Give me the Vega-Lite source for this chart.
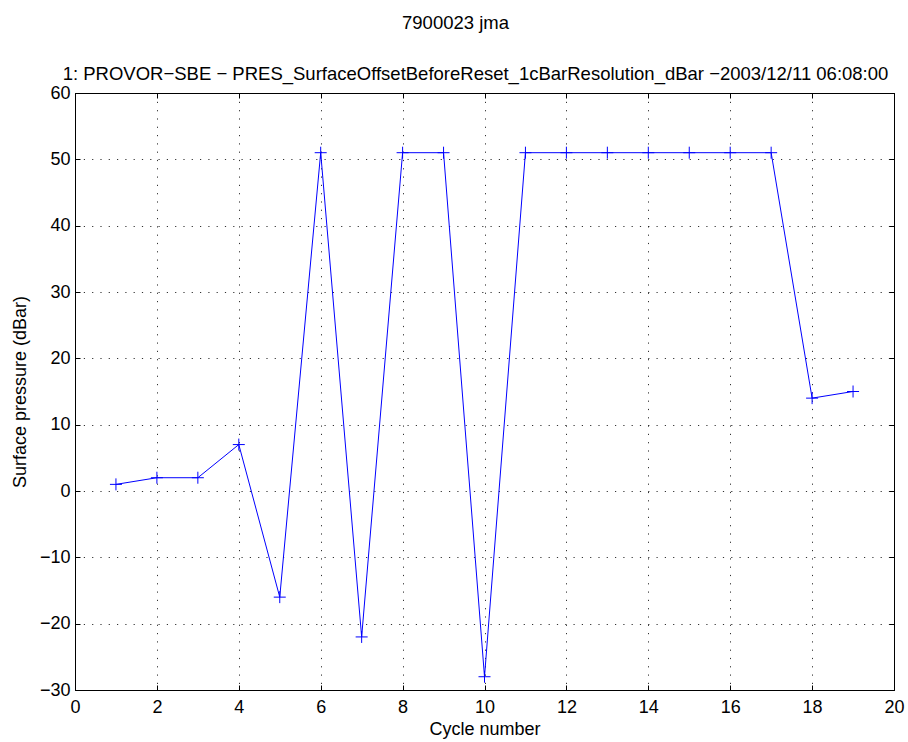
{
  "$schema": "https://vega.github.io/schema/vega-lite/v6.json",
  "width": 819,
  "height": 597,
  "autosize": "none",
  "padding": {"left": 75, "top": 93, "right": 14, "bottom": 52},
  "background": "white",
  "title": {
    "text": "7900023 jma",
    "anchor": "middle",
    "frame": "group",
    "dx": -29,
    "offset": 32,
    "fontSize": 18.5,
    "font": "Liberation Sans",
    "fontWeight": "normal",
    "color": "black"
  },
  "config": {
    "view": {"stroke": "black", "strokeWidth": 1},
    "axis": {
      "labelFont": "Liberation Sans",
      "labelFontSize": 18,
      "labelColor": "black",
      "titleFont": "Liberation Sans",
      "titleFontSize": 18,
      "titleFontWeight": "normal",
      "titleColor": "black",
      "domainColor": "black",
      "domainWidth": 1,
      "tickColor": "black",
      "tickWidth": 1,
      "gridColor": "black",
      "gridOpacity": 0.8,
      "gridDash": [1.2, 7.1],
      "gridWidth": 1
    }
  },
  "data": {
    "values": [
      {"cycle": 1, "pres": 1},
      {"cycle": 2, "pres": 2},
      {"cycle": 3, "pres": 2},
      {"cycle": 4, "pres": 7},
      {"cycle": 5, "pres": -16},
      {"cycle": 6, "pres": 51},
      {"cycle": 7, "pres": -22},
      {"cycle": 8, "pres": 51},
      {"cycle": 9, "pres": 51},
      {"cycle": 10, "pres": -28},
      {"cycle": 11, "pres": 51},
      {"cycle": 12, "pres": 51},
      {"cycle": 13, "pres": 51},
      {"cycle": 14, "pres": 51},
      {"cycle": 15, "pres": 51},
      {"cycle": 16, "pres": 51},
      {"cycle": 17, "pres": 51},
      {"cycle": 18, "pres": 14},
      {"cycle": 19, "pres": 15}
    ]
  },
  "layer": [
    {
      "mark": {"type": "line", "color": "#0000ff", "strokeWidth": 1},
      "encoding": {
        "x": {
          "field": "cycle",
          "type": "quantitative",
          "scale": {"domain": [0, 20], "nice": false, "zero": false},
          "axis": {
            "orient": "bottom",
            "values": [0, 2, 4, 6, 8, 10, 12, 14, 16, 18, 20],
            "grid": true,
            "tickSize": -5,
            "labelPadding": 27,
            "labelBaseline": "alphabetic",
            "labelFlush": false,
            "labelOverlap": false,
            "title": "Cycle number",
            "titlePadding": 4
          }
        },
        "y": {
          "field": "pres",
          "type": "quantitative",
          "scale": {"domain": [-30, 60], "nice": false, "zero": false},
          "axis": {
            "orient": "left",
            "values": [-30, -20, -10, 0, 10, 20, 30, 40, 50, 60],
            "grid": true,
            "tickSize": -5,
            "labelPadding": 10,
            "labelFlush": false,
            "labelOverlap": false,
            "labelExpr": "replace(datum.label, '-', '\u2212')",
            "title": "Surface pressure (dBar)",
            "titlePadding": 10
          }
        }
      }
    },
    {
      "mark": {"type": "point", "shape": "M-1,0H1M0,-1V1", "size": 144, "color": "#0000ff", "filled": false, "strokeWidth": 1, "opacity": 1},
      "encoding": {
        "x": {
          "field": "cycle",
          "type": "quantitative",
          "axis": {
            "orient": "top",
            "values": [0, 2, 4, 6, 8, 10, 12, 14, 16, 18, 20],
            "labels": false,
            "grid": false,
            "tickSize": -5,
            "title": "1: PROVOR\u2212SBE \u2212 PRES_SurfaceOffsetBeforeReset_1cBarResolution_dBar \u22122003/12/11 06:08:00",
            "titleX": 400,
            "titleY": -14,
            "titleFontSize": 18.5,
            "titleAlign": "center",
            "titleBaseline": "alphabetic",
            "titleAnchor": null
          }
        },
        "y": {
          "field": "pres",
          "type": "quantitative",
          "axis": {
            "orient": "right",
            "values": [-30, -20, -10, 0, 10, 20, 30, 40, 50, 60],
            "labels": false,
            "grid": false,
            "tickSize": -5,
            "title": null
          }
        }
      }
    }
  ],
  "resolve": {"axis": {"x": "independent", "y": "independent"}}
}
